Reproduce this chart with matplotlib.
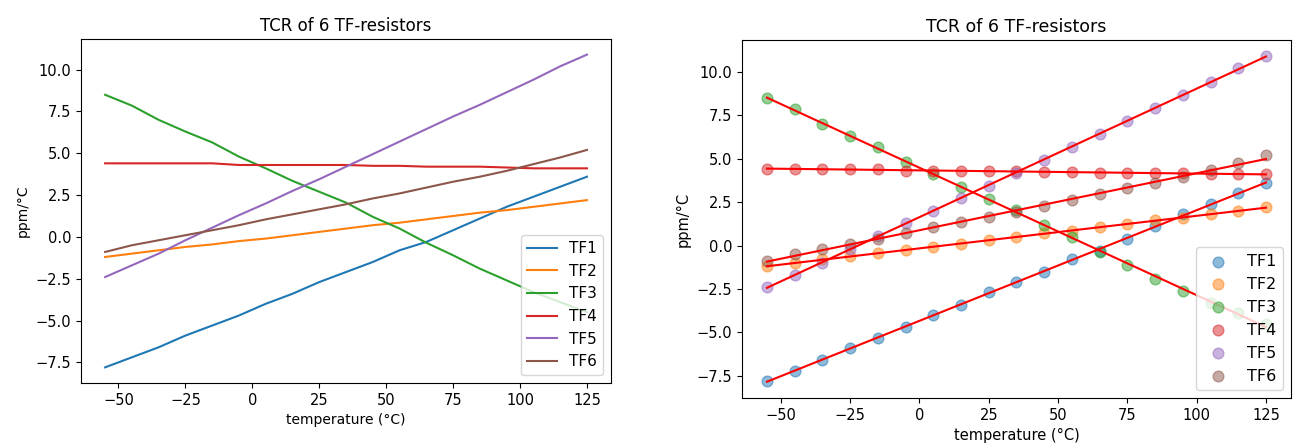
import numpy as np
import matplotlib
matplotlib.use('Agg')
import matplotlib.pyplot as plt

# temperatures (deg C) and TCR values (ppm/deg C)
temps = [-55, -45, -35, -25, -15, -5, 5, 15, 25, 35, 45, 55, 65, 75, 85, 95, 105, 115, 125]
labels = ['TF1', 'TF2', 'TF3', 'TF4', 'TF5', 'TF6']

tf1 = [-7.8, -7.2, -6.6, -5.9, -5.3, -4.7, -4.0, -3.4, -2.7, -2.1, -1.5, -0.8, -0.3, 0.4, 1.1, 1.8, 2.4, 3.0, 3.6]
tf2 = [-1.2, -1.0, -0.8, -0.6, -0.45, -0.25, -0.1, 0.1, 0.3, 0.5, 0.7, 0.85, 1.05, 1.25, 1.45, 1.6, 1.8, 2.0, 2.2]
tf3 = [8.5, 7.85, 7.0, 6.3, 5.65, 4.8, 4.1, 3.35, 2.7, 2.05, 1.2, 0.5, -0.35, -1.1, -1.9, -2.6, -3.3, -3.9, -4.5]
tf4 = [4.4, 4.4, 4.4, 4.4, 4.4, 4.3, 4.3, 4.3, 4.3, 4.3, 4.25, 4.25, 4.2, 4.2, 4.2, 4.15, 4.1, 4.1, 4.1]
tf5 = [-2.4, -1.7, -1.0, -0.2, 0.55, 1.3, 2.0, 2.75, 3.45, 4.2, 4.95, 5.7, 6.45, 7.2, 7.9, 8.65, 9.4, 10.2, 10.9]
tf6 = [-0.9, -0.5, -0.2, 0.1, 0.4, 0.7, 1.05, 1.35, 1.65, 1.95, 2.3, 2.6, 2.95, 3.3, 3.6, 3.95, 4.35, 4.75, 5.2]

series = [tf1, tf2, tf3, tf4, tf5, tf6]
t = np.array(temps)

fig = plt.figure(figsize=(12.96, 4.48), dpi=100)
ax1 = fig.add_axes([0.0625, 0.1451, 0.4090, 0.7679])
ax2 = fig.add_axes([0.5725, 0.1116, 0.4236, 0.7991])

# left: raw curves
for vals, lab in zip(series, labels):
	ax1.plot(t, vals, label=lab)
ax1.set_title('TCR of 6 TF-resistors')
ax1.set_xlabel('temperature (°C)')
ax1.set_ylabel('ppm/°C')
ax1.legend(loc='lower right', fontsize=11)

# right: points with linear fits
for vals, lab in zip(series, labels):
	ax2.scatter(t, vals, s=60, alpha=0.5, label=lab)
for vals in series:
	k, b = np.polyfit(t, vals, 1)
	ax2.plot(t, k * t + b, color='red', lw=1.5)
ax2.set_title('TCR of 6 TF-resistors', fontsize=12.5)
ax2.set_xlabel('temperature (°C)', fontsize=10.5)
ax2.set_ylabel('ppm/°C', fontsize=10.5)
ax2.legend(loc='lower right', fontsize=11.5)

for ax in (ax1, ax2):
	ax.set_xticks([-50, -25, 0, 25, 50, 75, 100, 125])
	ax.tick_params(labelsize=10.5)

fig.savefig('out.png', dpi=100)
